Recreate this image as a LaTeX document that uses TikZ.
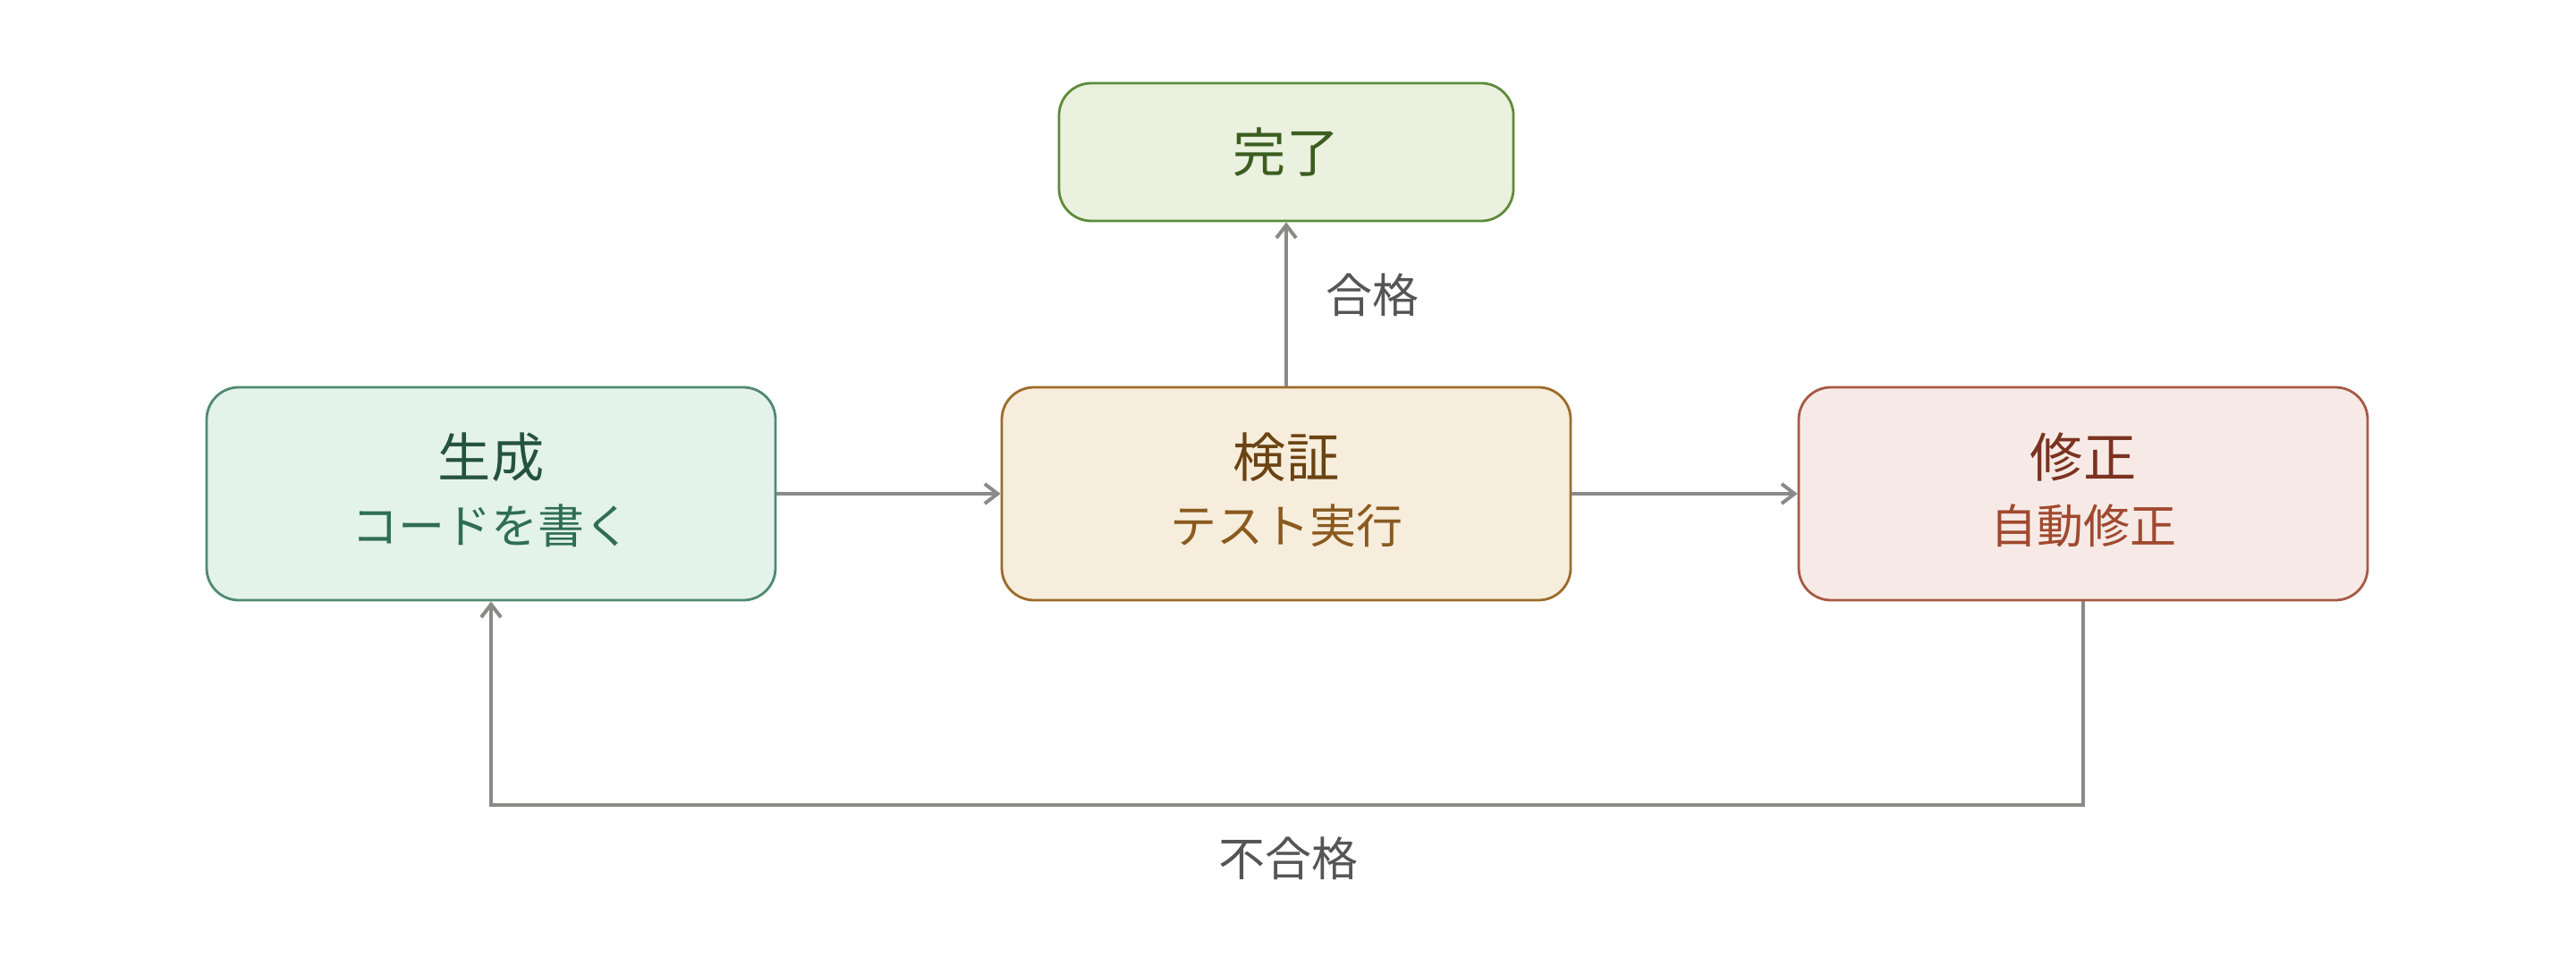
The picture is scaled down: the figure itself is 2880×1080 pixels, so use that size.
\documentclass[tikz,border=0pt]{standalone}
\usepackage{fontspec}
\setmainfont{Noto Sans CJK JP}
\usetikzlibrary{arrows.meta}
\definecolor{arr}{HTML}{8A8A88}
\definecolor{lbl}{HTML}{555555}
\definecolor{gFill}{HTML}{E4F2EC}\definecolor{gLine}{HTML}{4F8A70}\definecolor{gT}{HTML}{24533F}\definecolor{gS}{HTML}{2F6E55}
\definecolor{yFill}{HTML}{F6EDDC}\definecolor{yLine}{HTML}{9C6B2A}\definecolor{yT}{HTML}{6B4312}\definecolor{yS}{HTML}{8A5A1E}
\definecolor{rFill}{HTML}{F7EAE6}\definecolor{rLine}{HTML}{A65A45}\definecolor{rT}{HTML}{7A3320}\definecolor{rS}{HTML}{A0492F}
\definecolor{dFill}{HTML}{EAF1DF}\definecolor{dLine}{HTML}{5E8C3A}\definecolor{dT}{HTML}{3B5E1F}
\tikzset{
  box/.style={draw, line width=0.7pt, rounded corners=9pt, minimum width=159pt, minimum height=59.5pt, inner sep=0pt},
  donebox/.style={draw, line width=0.7pt, rounded corners=9pt, minimum width=127pt, minimum height=38.5pt, inner sep=0pt},
  ttl/.style={font=\fontsize{14.8}{16}\selectfont, inner sep=0pt},
  sub/.style={font=\fontsize{13}{14}\selectfont, inner sep=0pt},
  lab/.style={font=\fontsize{13}{14}\selectfont, text=lbl, inner sep=0pt},
  flow/.style={draw=arr, line width=1pt, -{Straight Barb[length=3.6pt,width=5.5pt,line width=1pt]}}
}
\begin{document}
\begin{tikzpicture}[x=0.25pt,y=-0.25pt]
\useasboundingbox (0,0) rectangle (2880,1080);
\node[donebox, fill=dFill, draw=dLine] (done) at (1438,170) {};
\node[ttl, text=dT] (doneT) at (1438,170) {完了};
\node[box, fill=gFill, draw=gLine] (gen) at (549,552) {};
\node[ttl, text=gT] (genT) at (549,511) {生成};
\node[sub, text=gS] (genS) at (549,588) {コードを書く};
\node[box, fill=yFill, draw=yLine] (ver) at (1438,552) {};
\node[ttl, text=yT] (verT) at (1438,511) {検証};
\node[sub, text=yS] (verS) at (1438,588) {テスト実行};
\node[box, fill=rFill, draw=rLine] (fix) at (2329,552) {};
\node[ttl, text=rT] (fixT) at (2329,511) {修正};
\node[sub, text=rS] (fixS) at (2329,588) {自動修正};
\coordinate (c1) at (2329,900);
\coordinate (c2) at (549,900);
\draw[flow] (gen.east) -- (ver.west);
\draw[flow] (ver.east) -- (fix.west);
\draw[flow] (ver.north) -- (done.south);
\draw[flow] (fix.south) -- (c1) -- (c2) -- (gen.south);
\node[lab] (pass) at (1534,330) {合格};
\node[lab] (fail) at (1440,960) {不合格};
\end{tikzpicture}
\end{document}
